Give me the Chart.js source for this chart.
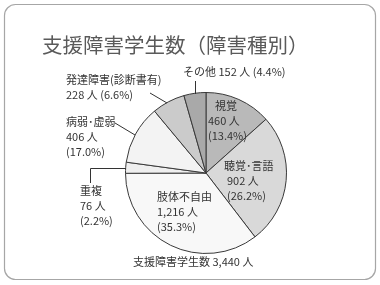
<!DOCTYPE html>
<html>
<head>
<meta charset="utf-8">
<script src="https://cdn.jsdelivr.net/npm/chart.js@4"></script>
<style>
  html, body { margin: 0; padding: 0; background: #ffffff; }
  #wrap { width: 380px; height: 285px; }
</style>
</head>
<body>
<div id="wrap"><canvas id="pieChart" width="380" height="285"></canvas></div>
<script>
// Data (clockwise from 12 o'clock)
const categories = ['視覚', '聴覚･言語', '肢体不自由', '重複', '病弱･虚弱', '発達障害(診断書有)', 'その他'];
const counts = [460, 902, 1216, 76, 406, 228, 152];
const pctLabels = ['13.4%', '26.2%', '35.3%', '2.2%', '17.0%', '6.6%', '4.4%'];
const sliceColors = ['#b9b9b9', '#d9d9d9', '#f8f8f8', '#efefef', '#f3f3f3', '#cbcbcb', '#a9a9a9'];
const totalLabel = '支援障害学生数';
const titleText = '支援障害学生数（障害種別）';

const FONT = '"Noto Sans CJK JP", "Noto Sans", sans-serif';

function fmt(n) {
    return n.toLocaleString('en-US');
}

// Label text lines for each slice
const labelLines = [
    [categories[0], fmt(counts[0]) + ' 人', '(' + pctLabels[0] + ')'],
    [categories[1], fmt(counts[1]) + ' 人', '(' + pctLabels[1] + ')'],
    [categories[2], fmt(counts[2]) + ' 人', '(' + pctLabels[2] + ')'],
    [categories[3], fmt(counts[3]) + ' 人', '(' + pctLabels[3] + ')'],
    [categories[4], fmt(counts[4]) + ' 人', '(' + pctLabels[4] + ')'],
    [categories[5], fmt(counts[5]) + ' 人 (' + pctLabels[5] + ')'],
    [categories[6] + ' ' + fmt(counts[6]) + ' 人 (' + pctLabels[6] + ')']
];
// Where each label block sits (left x, first baseline y, first line indent)
const labelPos = [
    [208, 110, 7], [227, 170, -3], [157, 201, 0], [80, 195, 0], [66, 126, 0], [66, 84, 0], [183, 76, 0]
];

const slidePlugin = {
    id: 'slide',
    beforeDraw(chart) {
        const ctx = chart.ctx;
        ctx.save();
        ctx.fillStyle = '#ffffff';
        ctx.fillRect(0, 0, chart.width, chart.height);
        ctx.strokeStyle = '#a6a6a6';
        ctx.lineWidth = 1.2;
        ctx.beginPath();
        ctx.roundRect(4.5, 4.5, 371, 275, 11);
        ctx.stroke();

        ctx.fillStyle = '#5a5a5a';
        ctx.font = '20.5px ' + FONT;
        ctx.textBaseline = 'alphabetic';
        ctx.fillText(titleText, 42, 53);
        ctx.restore();
    },
    afterDraw(chart) {
        const ctx = chart.ctx;
        ctx.save();
        ctx.fillStyle = '#333333';
        ctx.font = '11px ' + FONT;
        ctx.textBaseline = 'alphabetic';
        labelLines.forEach((lines, i) => {
            const [x, y, indent] = labelPos[i];
            lines.forEach((t, j) => ctx.fillText(t, x + (j === 0 ? indent : 0), y + j * 15));
        });
        const total = counts.reduce((a, b) => a + b, 0);
        ctx.fillText(totalLabel + ' ' + fmt(total) + ' 人', 133, 266);

        // leader lines
        ctx.strokeStyle = '#333333';
        ctx.lineWidth = 1;
        ctx.beginPath();
        ctx.moveTo(195.5, 81); ctx.lineTo(195.5, 94);
        ctx.moveTo(150, 93); ctx.lineTo(167, 103);
        ctx.moveTo(115, 123); ctx.lineTo(135, 135);
        ctx.moveTo(90.5, 183); ctx.lineTo(90.5, 168.5); ctx.lineTo(126, 168.5);
        ctx.stroke();
        ctx.restore();
    }
};

new Chart(document.getElementById('pieChart'), {
    type: 'pie',
    data: {
        labels: categories,
        datasets: [{
            data: counts,
            backgroundColor: sliceColors,
            borderColor: '#3a3a3a',
            borderWidth: 1
        }]
    },
    options: {
        responsive: false,
        animation: false,
        layout: { padding: { left: 125, right: 93, top: 92, bottom: 31 } },
        plugins: {
            legend: { display: false },
            tooltip: { enabled: false }
        }
    },
    plugins: [slidePlugin]
});
</script>
</body>
</html>
